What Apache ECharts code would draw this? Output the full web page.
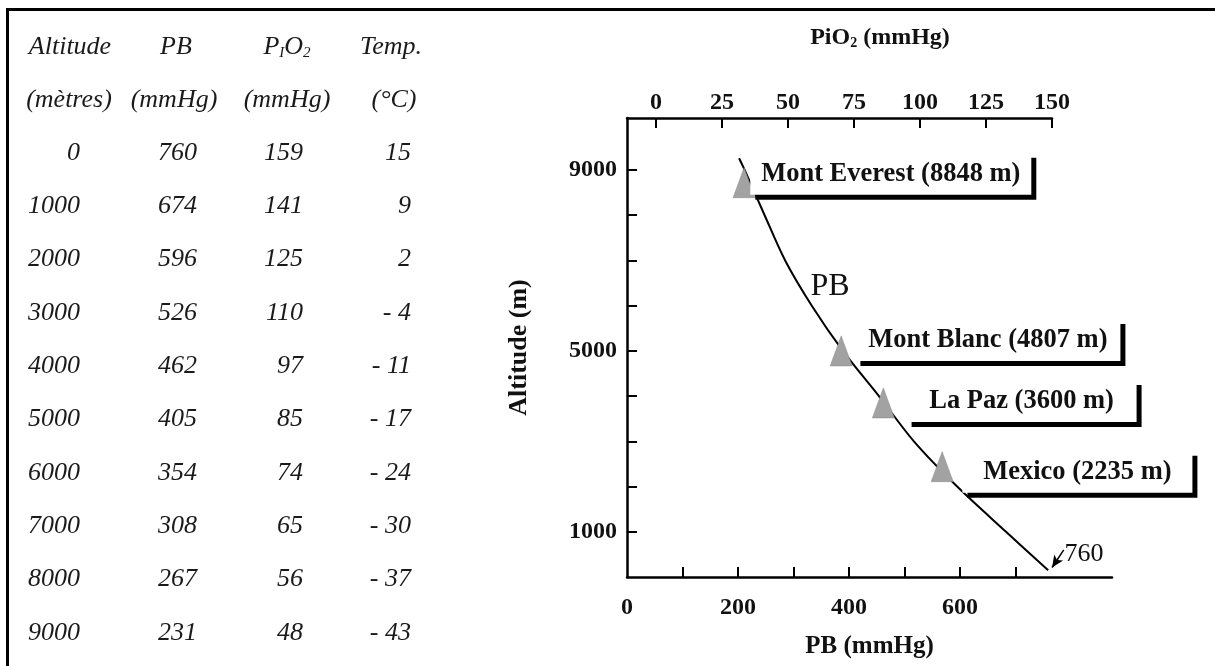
<!DOCTYPE html>
<html><head><meta charset="utf-8">
<script src="https://cdn.jsdelivr.net/npm/echarts@6/dist/echarts.min.js"></script>
<style>html,body{margin:0;padding:0;background:#fff}#c{width:1215px;height:666px}</style>
</head><body><div id="c"></div>
<script>
// ---- table data ----
const tableAltitudes = [0, 1000, 2000, 3000, 4000, 5000, 6000, 7000, 8000, 9000];
const tablePB = [760, 674, 596, 526, 462, 405, 354, 308, 267, 231];
const tablePIO2 = [159, 141, 125, 110, 97, 85, 74, 65, 56, 48];
const tableTemp = [15, 9, 2, -4, -11, -17, -24, -30, -37, -43];

// ---- curve (PB mmHg, altitude m) ----
const curvePB = [202, 212, 248, 285, 333, 389, 454, 517, 595, 683, 759];
const curveAlt = [9260, 9000, 8000, 7000, 6000, 5000, 4000, 3000, 2000, 1000, 150];

// ---- sites ----
const siteNames = ['Mont Everest (8848 m)', 'Mont Blanc (4807 m)', 'La Paz (3600 m)', 'Mexico (2235 m)'];
const sitePB = [211, 386, 462, 568];
const siteAlt = [8720, 5000, 3850, 2440];

// ---- ticks ----
const pbTicks = [100, 200, 300, 400, 500, 600, 700];
const pbLabels = [0, 200, 400, 600];
const altTicks = [1000, 2000, 3000, 4000, 5000, 6000, 7000, 8000, 9000];
const altLabels = [1000, 5000, 9000];
const pio2Ticks = [0, 25, 50, 75, 100, 125, 150];

const SERIF = '"Liberation Serif", "Times New Roman", serif';
const INK = '#111';

const chart = echarts.init(document.getElementById('c'), null, {renderer: 'canvas'});

// label box layout (position relative to triangle)
const boxW = [281, 265, 230, 230];
const boxDist = [-5, 3, 12, 9];
const boxOffY = [-9, -11, -2, 5];

const siteData = siteNames.map((n, i) => ({
  value: [sitePB[i], siteAlt[i]],
  label: {
    show: true, position: 'right', distance: boxDist[i], offset: [0, boxOffY[i]],
    formatter: '{t|' + n + '}',
    backgroundColor: '#fff', shadowColor: '#000', shadowOffsetX: 5, shadowOffsetY: 5, shadowBlur: 0,
    padding: 0,
    rich: { t: { width: boxW[i], height: 42, lineHeight: 42, align: 'center', fontSize: 26.5, fontWeight: 'bold', fontFamily: SERIF, color: INK } }
  }
}));

// table graphics
const tableEls = [];
const colRight = [80, 197, 303, 411];
const rowY0 = 153, rowStep = 53.33;
function txt(x, y, text, align, extra) {
  return Object.assign({ type: 'text', z: 10, style: Object.assign({
    x: x, y: y, text: text, align: align, textAlign: align, verticalAlign: 'middle', textVerticalAlign: 'middle',
    font: 'italic 26px ' + SERIF, fill: '#1a1a1a'
  }, extra || {}) });
}
tableAltitudes.forEach((a, i) => {
  const y = rowY0 + i * rowStep;
  tableEls.push(txt(colRight[0], y, String(a), 'right'));
  tableEls.push(txt(colRight[1], y, String(tablePB[i]), 'right'));
  tableEls.push(txt(colRight[2], y, String(tablePIO2[i]), 'right'));
  const t = tableTemp[i];
  tableEls.push(txt(colRight[3], y, t < 0 ? '- ' + Math.abs(t) : String(t), 'right'));
});
// headers
tableEls.push(txt(70, 47, 'Altitude', 'center'));
tableEls.push(txt(69, 100, '(mètres)', 'center'));
tableEls.push(txt(176, 47, 'PB', 'center'));
tableEls.push(txt(174, 100, '(mmHg)', 'center'));
tableEls.push(txt(287, 47, '{m|P}{s|I}{m|O}{s|2}', 'center', {
  rich: { m: { font: 'italic 26px ' + SERIF, fill: '#1a1a1a', lineHeight: 30 },
          s: { font: 'italic 15px ' + SERIF, fill: '#1a1a1a', lineHeight: 30, padding: [12, 0, 0, 0] } }
}));
tableEls.push(txt(287, 100, '(mmHg)', 'center'));
tableEls.push(txt(391, 47, 'Temp.', 'center'));
tableEls.push(txt(394, 100, '(°C)', 'center'));

// frame lines
tableEls.push({ type: 'line', shape: { x1: 7, y1: 9.5, x2: 1215, y2: 9.5 }, style: { stroke: '#000', lineWidth: 3 } });
tableEls.push({ type: 'line', shape: { x1: 7.5, y1: 8, x2: 7.5, y2: 666 }, style: { stroke: '#000', lineWidth: 3 } });

// chart texts
tableEls.push({ type: 'text', style: { x: 880, y: 38, text: '{m|PiO}{s|2}{m| (mmHg)}', align: 'center', textAlign: 'center', verticalAlign: 'middle', textVerticalAlign: 'middle',
  rich: { m: { font: 'bold 24px ' + SERIF, fill: INK, lineHeight: 28 }, s: { font: 'bold 14px ' + SERIF, fill: INK, lineHeight: 28, padding: [10, 0, 0, 0] } } } });
tableEls.push({ type: 'text', style: { x: 830, y: 287, text: 'PB', align: 'center', textAlign: 'center', verticalAlign: 'middle', textVerticalAlign: 'middle', font: '32px ' + SERIF, fill: INK } });
tableEls.push({ type: 'text', style: { x: 1084, y: 554, text: String(tablePB[0]), align: 'center', textAlign: 'center', verticalAlign: 'middle', textVerticalAlign: 'middle', font: '26px ' + SERIF, fill: INK } });

const axisLabelStyle = { fontFamily: SERIF, fontWeight: 'bold', fontSize: 24, color: INK, formatter: (v) => String(v) };

chart.setOption({
  animation: false,
  backgroundColor: '#fff',
  grid: [
    { left: 627, top: 118, width: 485, height: 459 },
    { left: 627, top: 118, width: 425, height: 459 }
  ],
  xAxis: [
    { gridIndex: 0, type: 'value', position: 'bottom', min: 0, max: 874,
      axisLine: { show: true, onZero: false, lineStyle: { color: '#000', width: 2.5 } },
      axisTick: { show: true, inside: true, length: 10, customValues: pbTicks, lineStyle: { color: '#000', width: 2 } },
      axisLabel: Object.assign({ customValues: pbLabels, margin: 19 }, axisLabelStyle),
      splitLine: { show: false },
      name: 'PB (mmHg)', nameLocation: 'middle', nameGap: 57,
      nameTextStyle: { fontFamily: SERIF, fontWeight: 'bold', fontSize: 25, color: INK } },
    { gridIndex: 1, type: 'value', position: 'top', min: -11, max: 150,
      axisLine: { show: true, onZero: false, lineStyle: { color: '#000', width: 2.5 } },
      axisTick: { show: true, inside: true, length: 10, customValues: pio2Ticks, lineStyle: { color: '#000', width: 2 } },
      axisLabel: Object.assign({ customValues: pio2Ticks, margin: 3 }, axisLabelStyle),
      splitLine: { show: false } }
  ],
  yAxis: [
    { gridIndex: 0, type: 'value', min: 0, max: 10150,
      axisLine: { show: true, onZero: false, lineStyle: { color: '#000', width: 2.5 } },
      axisTick: { show: true, inside: true, length: 10, customValues: altTicks, lineStyle: { color: '#000', width: 2 } },
      axisLabel: Object.assign({ customValues: altLabels, margin: 10 }, axisLabelStyle),
      splitLine: { show: false },
      name: 'Altitude (m)', nameLocation: 'middle', nameGap: 95, nameRotate: 90,
      nameTextStyle: { fontFamily: SERIF, fontWeight: 'bold', fontSize: 26, color: INK } },
    { gridIndex: 1, type: 'value', min: 0, max: 10150, show: false }
  ],
  graphic: tableEls,
  series: [
    { type: 'line', xAxisIndex: 0, yAxisIndex: 0, z: 2,
      data: curvePB.map((p, i) => [p, curveAlt[i]]),
      smooth: 0.3, showSymbol: false, symbol: 'none',
      lineStyle: { color: '#000', width: 2 },
      markLine: { silent: true, symbol: ['none', 'arrow'], symbolSize: [8, 12], animation: false,
        lineStyle: { color: '#000', width: 1.5, type: 'solid' }, label: { show: false },
        data: [[{ coord: [787, 600] }, { coord: [766, 210] }]] } },
    { type: 'scatter', xAxisIndex: 0, yAxisIndex: 0, z: 5,
      symbol: 'triangle', symbolSize: [22, 30],
      itemStyle: { color: '#a2a2a2', borderColor: '#888', borderWidth: 0.5, opacity: 1 },
      data: siteData }
  ]
});
</script>
</body></html>
